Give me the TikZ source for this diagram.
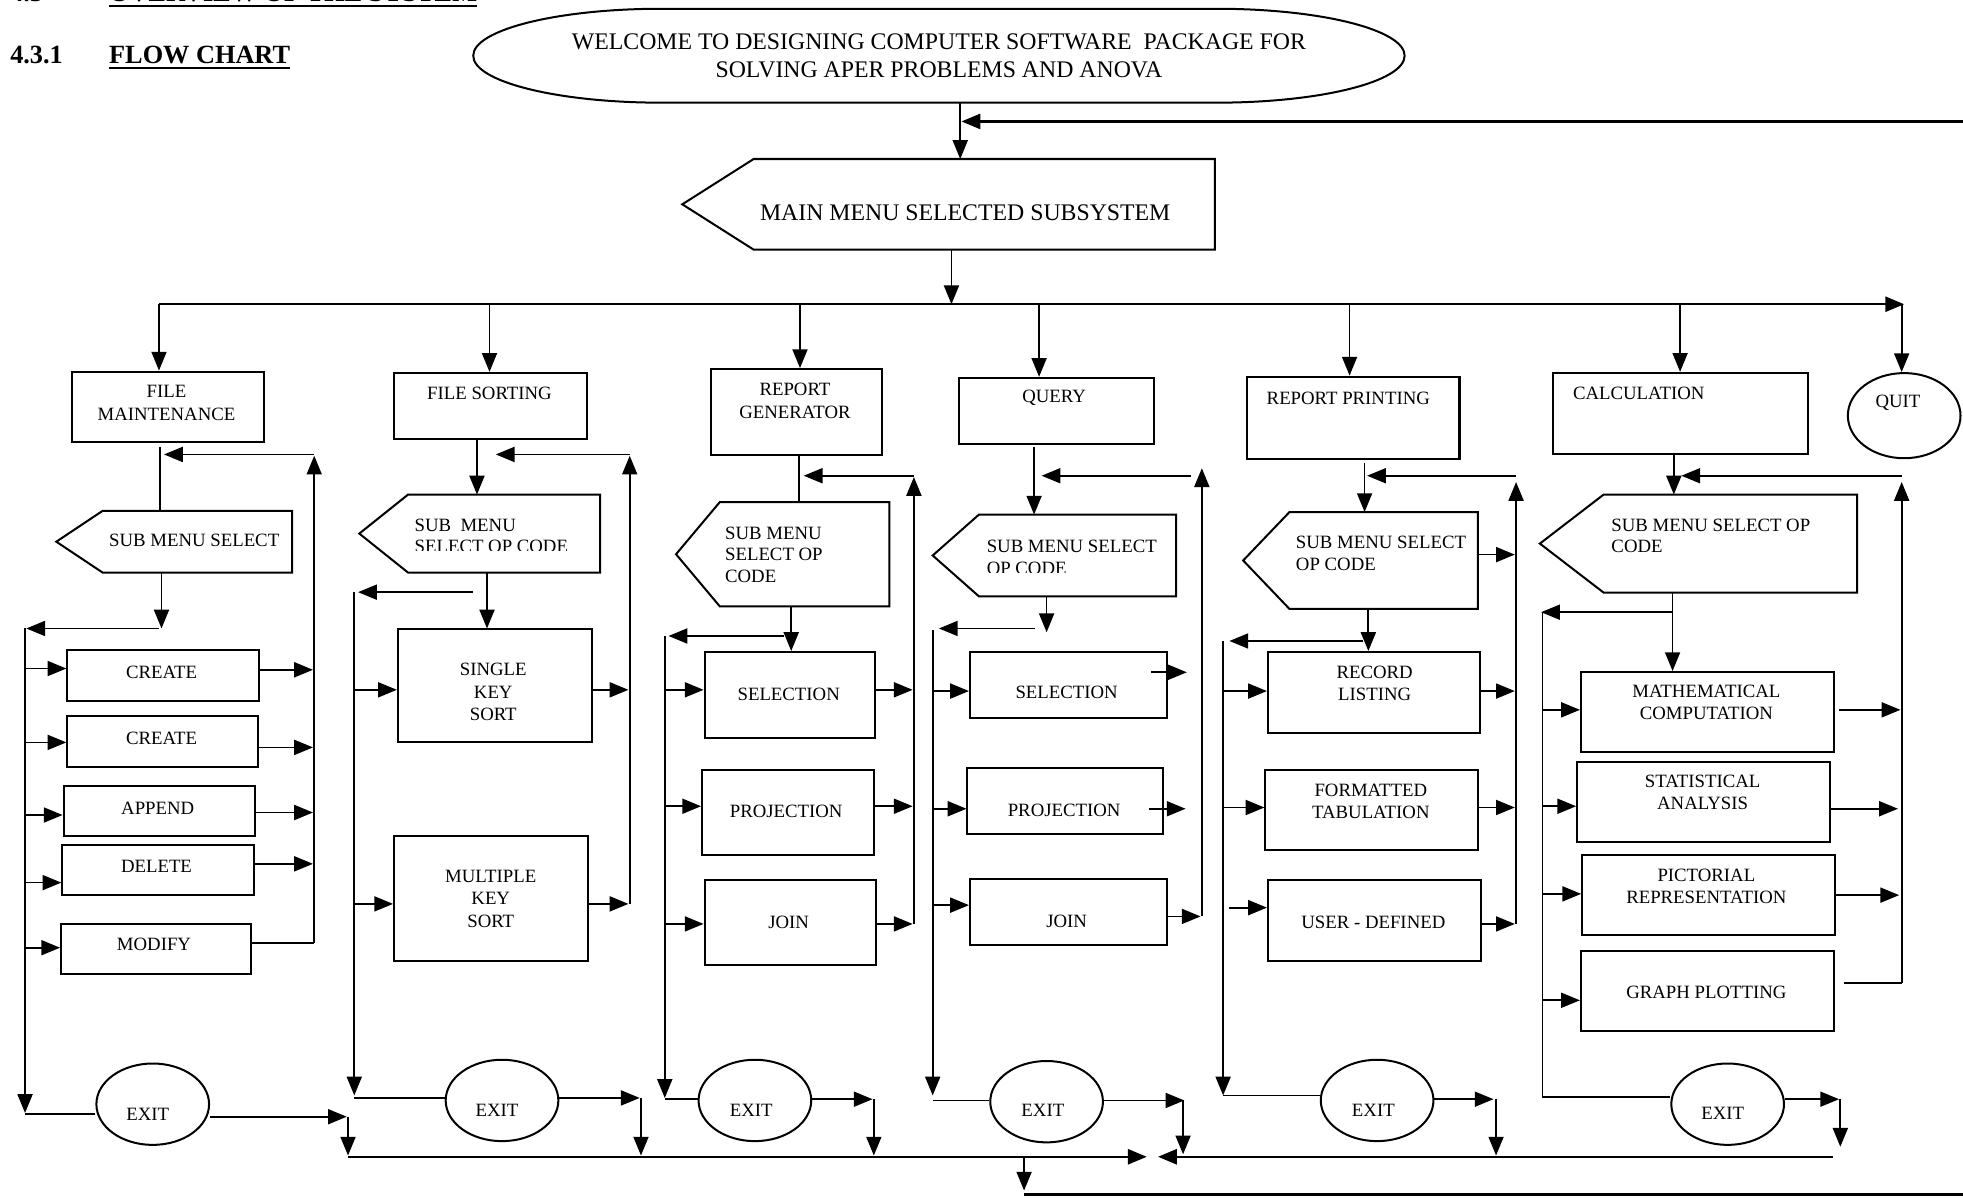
\documentclass[tikz,border=0pt]{standalone}
\usepackage{fontspec}
\setmainfont{Liberation Serif}
\usetikzlibrary{arrows.meta,shapes.geometric,calc}

% rectangular process box given by its corners
\newcommand{\flowbox}[5]{%
  \node[procbox, minimum width={(#4-#2)*1pt}, minimum height={(#5-#3)*1pt}] (#1) at (#2,#3) {};}
% menu box pointing to the left: name, tip x, corner x, right x, top y, bottom y
\newcommand{\menubox}[6]{%
  \node[inner sep=0pt, anchor=north west, minimum width={(#4-#3)*1pt}, minimum height={(#6-#5)*1pt}] (#1) at (#3,#5) {};
  \draw[shapeline] (#1.north west) -- (#1.north east) -- (#1.south east) -- (#1.south west) -- (#2,0 |- #1.west) -- cycle;}

\begin{document}
\begin{tikzpicture}[x=1pt, y=-1pt,
  conn/.style={line width=1.4pt},
  bus/.style={line width=1.9pt},
  arr/.style={conn, -{Triangle[length=15pt,width=12pt]}},
  busarr/.style={bus, -{Triangle[length=15pt,width=12pt]}},
  shapeline/.style={line width=1.6pt, line join=miter},
  procbox/.style={draw, shapeline, rectangle, inner sep=0pt, anchor=north west},
  txt/.style={inner sep=0pt, align=center, font=\fontsize{15}{18}\selectfont},
  ltxt/.style={inner sep=0pt, align=left, anchor=west, font=\fontsize{15}{17.5}\selectfont},
  bigtxt/.style={inner sep=0pt, align=center, font=\fontsize{19}{23}\selectfont},
  head/.style={inner sep=0pt, anchor=base west, font=\fontsize{21}{25}\selectfont\bfseries},
  endnode/.style={draw, ellipse, shapeline, inner sep=0pt, minimum width=90pt, minimum height=65pt},
]
\useasboundingbox (0,0) rectangle (1568,959);

% ---------- headings ----------
\node[head] (sec) at (8,1.5) {4.3};
\node[head] (sectitle) at (87,1.5) {OVERVIEW OF THE SYSTEM};
\draw[line width=1.6pt] ([yshift=-3pt]sectitle.base west) -- ([yshift=-3pt]sectitle.base east);
\node[head] (subsec) at (8,51) {4.3.1};
\node[head] (fc) at (87,51) {FLOW CHART};
\draw[line width=1.6pt] ([yshift=-3.5pt]fc.base west) -- ([yshift=-3.5pt]fc.base east);

% ---------- start and main menu ----------
\node[bigtxt, minimum height=75pt] (welcome) at (750,44.5)
  {WELCOME TO DESIGNING COMPUTER SOFTWARE\ \ PACKAGE FOR\\SOLVING APER PROBLEMS AND ANOVA};
\draw[shapeline] ([xshift=-222pt,yshift=37.5pt]welcome.center) -- ([xshift=222pt,yshift=37.5pt]welcome.center)
  arc[start angle=90, end angle=-90, x radius=150pt, y radius=37.5pt]
  -- ([xshift=-222pt,yshift=-37.5pt]welcome.center)
  arc[start angle=270, end angle=90, x radius=150pt, y radius=37.5pt] -- cycle;

\menubox{mm}{545}{602}{970}{127}{199}
\node[bigtxt] (mm-t) at (771,170) {MAIN MENU SELECTED SUBSYSTEM};

\draw[arr] (767,0 |- welcome.south) -- (767,0 |- mm.north);
\draw[busarr] (1568,97) -- (768,97);
\draw[arr] (760,0 |- mm.south) -- (760,243);
\draw[busarr] (127,243) -- (1521,243);

% ---------- subsystem boxes ----------
\flowbox{fm}{57}{296}{210}{352}
\node[txt] (fm-t) at (133,322) {FILE\\MAINTENANCE};
\flowbox{fs}{314}{297}{468}{350}
\node[txt] (fs-t) at (391,314) {FILE SORTING};
\flowbox{rg}{567}{294}{704}{363}
\node[txt] (rg-t) at (635,320) {REPORT\\GENERATOR};
\flowbox{qry}{765}{301}{921}{354}
\node[txt] (qry-t) at (842,318) {QUERY};
\flowbox{rp}{995}{300}{1165}{366}
\node[txt] (rp-t) at (1077,318) {REPORT PRINTING};
\flowbox{calc}{1240}{297}{1443}{362}
\node[txt] (calc-t) at (1309,314) {CALCULATION};
\node[endnode, minimum height=68pt] (quit) at (1521,332) {};
\node[txt] (quit-t) at (1516,322) {QUIT};

\draw[arr] (127,243) -- (127,0 |- fm.north);
\draw[arr] (391,243) -- (391,0 |- fs.north);
\draw[arr] (639,243) -- (639,0 |- rg.north);
\draw[arr] (830,243) -- (830,0 |- qry.north);
\draw[arr] (1078,243) -- (1078,0 |- rp.north);
\draw[arr] (1342,243) -- (1342,0 |- calc.north);
\draw[arr] (1519,243) -- (1519,0 |- quit.north);

% ---------- file maintenance ----------
\menubox{smA}{45}{82}{233}{408}{457}
\node[ltxt] (smA-t) at (87,432) {SUB MENU SELECT};
\flowbox{crA}{53}{518}{206}{559}
\node[txt] (crA-t) at (129,537) {CREATE};
\flowbox{crB}{53}{571}{205}{612}
\node[txt] (crB-t) at (129,590) {CREATE};
\flowbox{apd}{50}{627}{203}{667}
\node[txt] (apd-t) at (126,646) {APPEND};
\flowbox{del}{49}{674}{202}{714}
\node[txt] (del-t) at (125,692) {DELETE};
\flowbox{mod}{48}{737}{200}{777}
\node[txt] (mod-t) at (123,754) {MODIFY};
\node[endnode] (exA) at (122,882) {};
\node[txt] (exA-t) at (118,890) {EXIT};

\draw[conn] (128,357) -- (128,0 |- smA.north);
\draw[arr] (251,753) -- (251,364);
\draw[arr] (251,363) -- (131,363);
\draw[arr] (129,0 |- smA.south) -- (129,502);
\draw[arr] (127,502) -- (21,502);
\draw[arr] (20,502) -- (20,889);
\draw[conn] (20,890) -- (exA.west |- 0,890);
\draw[arr] (20,534) -- (crA.west |- 0,534);
\draw[arr] (20,593) -- (crB.west |- 0,593);
\draw[arr] (20,651) -- (apd.west |- 0,651);
\draw[arr] (20,705) -- (del.west |- 0,705);
\draw[arr] (20,757) -- (mod.west |- 0,757);
\draw[arr] (crA.east |- 0,535) -- (250,535);
\draw[arr] (crB.east |- 0,597) -- (250,597);
\draw[arr] (apd.east |- 0,649) -- (250,649);
\draw[arr] (del.east |- 0,690) -- (250,690);
\draw[conn] (mod.east |- 0,753) -- (251,753);
\draw[arr] (exA.east |- 0,892) -- (277,892);
\draw[arr] (278,892) -- (278,923);

% ---------- file sorting ----------
\menubox{smB}{287}{326}{479}{395}{457}
\begin{scope}
  \clip (326,396) rectangle (478,440);
  \node[ltxt] (smB-t) at (331,428) {SUB\ \ MENU\\SELECT OP CODE};
\end{scope}
\flowbox{sks}{317}{502}{472}{592}
\node[txt] (sks-t) at (394,553) {SINGLE\\KEY\\SORT};
\flowbox{mks}{314}{667}{469}{767}
\node[txt] (mks-t) at (392,718) {MULTIPLE\\KEY\\SORT};
\node[endnode] (exB) at (401,879) {};
\node[txt] (exB-t) at (397,887) {EXIT};

\draw[arr] (381,0 |- fs.south) -- (381,0 |- smB.north);
\draw[arr] (503,722) -- (503,364);
\draw[arr] (503,363) -- (396,363);
\draw[arr] (389,0 |- smB.south) -- (389,0 |- sks.north);
\draw[arr] (378,473) -- (286,473);
\draw[arr] (283,473) -- (283,875);
\draw[conn] (283,877) -- (exB.west |- 0,877);
\draw[arr] (283,551) -- (sks.west |- 0,551);
\draw[arr] (283,722) -- (mks.west |- 0,722);
\draw[arr] (sks.east |- 0,551) -- (502,551);
\draw[arr] (mks.east |- 0,722) -- (502,722);
\draw[arr] (exB.east |- 0,877) -- (511,877);
\draw[arr] (512,877) -- (512,923);

% ---------- report generator ----------
\menubox{smC}{540}{575}{710}{401}{484}
\node[ltxt, font=\fontsize{15}{17}\selectfont] (smC-t) at (579,443) {SUB MENU\\SELECT OP\\CODE};
\flowbox{selA}{562}{520}{698}{589}
\node[txt] (selA-t) at (630,555) {SELECTION};
\flowbox{prjA}{560}{614}{697}{682}
\node[txt] (prjA-t) at (628,648) {PROJECTION};
\flowbox{joinA}{562}{702}{699}{770}
\node[txt] (joinA-t) at (630,737) {JOIN};
\node[endnode] (exC) at (603,879) {};
\node[txt] (exC-t) at (600,887) {EXIT};

\draw[conn] (638,0 |- rg.south) -- (638,0 |- smC.north);
\draw[arr] (730,738) -- (730,381);
\draw[arr] (730,380) -- (642,380);
\draw[arr] (632,0 |- smC.south) -- (632,0 |- selA.north);
\draw[arr] (626,508) -- (534,508);
\draw[arr] (531,508) -- (531,877);
\draw[conn] (531,878) -- (exC.west |- 0,878);
\draw[arr] (531,551) -- (selA.west |- 0,551);
\draw[arr] (531,644) -- (prjA.west |- 0,644);
\draw[arr] (531,738) -- (joinA.west |- 0,738);
\draw[arr] (selA.east |- 0,551) -- (729,551);
\draw[arr] (prjA.east |- 0,644) -- (729,644);
\draw[arr] (joinA.east |- 0,738) -- (729,738);
\draw[arr] (exC.east |- 0,878) -- (697,878);
\draw[arr] (698,878) -- (698,923);

% ---------- query ----------
\menubox{smD}{745}{782}{939}{411}{476}
\begin{scope}
  \clip (782,412) rectangle (938,457.5);
  \node[ltxt] (smD-t) at (788,445) {SUB MENU SELECT\\OP CODE};
\end{scope}
\flowbox{selB}{774}{520}{931}{573}
\node[txt] (selB-t) at (852,553) {SELECTION};
\flowbox{prjB}{772}{613}{928}{665}
\node[txt] (prjB-t) at (850,647) {PROJECTION};
\flowbox{joinB}{774}{701}{931}{754}
\node[txt] (joinB-t) at (852,736) {JOIN};
\node[endnode] (exD) at (836,880) {};
\node[txt] (exD-t) at (833,887) {EXIT};

\draw[arr] (826,357) -- (826,0 |- smD.north);
\draw[arr] (960,732) -- (960,374);
\draw[arr] (951,380) -- (832,380);
\draw[arr] (836,0 |- smD.south) -- (836,505);
\draw[arr] (827,502) -- (750,502);
\draw[arr] (745,503) -- (745,875);
\draw[conn] (745,879) -- (exD.west |- 0,879);
\draw[arr] (745,552) -- (selB.west |- 0,552);
\draw[arr] (745,646) -- (prjB.west |- 0,646);
\draw[arr] (745,723) -- (joinB.west |- 0,723);
\draw[arr] ([xshift=-13pt]selB.east |- 0,537) -- (948,537);
\draw[arr] ([xshift=-12pt]prjB.east |- 0,646) -- (947,646);
\draw[arr] (joinB.east |- 0,732) -- (959,732);
\draw[arr] (exD.east |- 0,879) -- (946,879);
\draw[arr] (945,879) -- (945,922);

% ---------- report printing ----------
\menubox{smE}{993}{1030}{1180}{409}{486}
\node[ltxt] (smE-t) at (1035,442) {SUB MENU SELECT\\OP CODE};
\flowbox{rl}{1012}{520}{1181}{585}
\node[txt] (rl-t) at (1098,546) {RECORD\\LISTING};
\flowbox{ft}{1010}{614}{1180}{678}
\node[txt] (ft-t) at (1095,640) {FORMATTED\\TABULATION};
\flowbox{ud}{1012}{702}{1182}{767}
\node[txt] (ud-t) at (1097,737) {USER - DEFINED};
\node[endnode] (exE) at (1100,879) {};
\node[txt] (exE-t) at (1097,887) {EXIT};

\draw[arr] (1090,370) -- (1090,0 |- smE.north);
\draw[arr] (1211,738) -- (1211,385);
\draw[arr] (1211,380) -- (1092,380);
\draw[arr] (smE.east |- 0,443) -- (1210,443);
\draw[arr] (1093,0 |- smE.south) -- (1093,0 |- rl.north);
\draw[arr] (1089,512) -- (982,512);
\draw[arr] (977,512) -- (977,875);
\draw[conn] (977,875) -- (exE.west |- 0,875);
\draw[arr] (977,552) -- (rl.west |- 0,552);
\draw[arr] (977,645) -- (ft.west |- 0,645);
\draw[arr] (982,725) -- (ud.west |- 0,725);
\draw[arr] (rl.east |- 0,552) -- (1210,552);
\draw[arr] (ft.east |- 0,645) -- (1210,645);
\draw[arr] (ud.east |- 0,738) -- (1210,738);
\draw[arr] (exE.east |- 0,878) -- (1193,878);
\draw[arr] (1195,878) -- (1195,923);

% ---------- calculation ----------
\menubox{smF}{1230}{1281}{1483}{395}{473}
\node[ltxt] (smF-t) at (1287,428) {SUB MENU SELECT OP\\CODE};
\flowbox{mc}{1262}{536}{1464}{600}
\node[txt] (mc-t) at (1363,561) {MATHEMATICAL\\COMPUTATION};
\flowbox{sa}{1259}{608}{1461}{672}
\node[txt] (sa-t) at (1360,633) {STATISTICAL\\ANALYSIS};
\flowbox{pr}{1263}{682}{1465}{746}
\node[txt] (pr-t) at (1363,708) {PICTORIAL\\REPRESENTATION};
\flowbox{gp}{1262}{759}{1464}{823}
\node[txt] (gp-t) at (1363,793) {GRAPH PLOTTING};
\node[endnode] (exF) at (1380,882) {};
\node[txt] (exF-t) at (1376,889) {EXIT};

\draw[arr] (1337,0 |- calc.south) -- (1337,0 |- smF.north);
\draw[arr] (1519,785) -- (1519,385);
\draw[arr] (1519,380) -- (1343,380);
\draw[arr] (1336,0 |- smF.south) -- (1336,0 |- mc.north);
\draw[arr] (1336,489) -- (1231,489);
\draw[conn] (1232,489) -- (1232,876) -- (exF.west |- 0,876);
\draw[arr] (1232,567) -- (mc.west |- 0,567);
\draw[arr] (1232,644) -- (sa.west |- 0,644);
\draw[arr] (1232,714) -- (pr.west |- 0,714);
\draw[arr] (1232,799) -- (gp.west |- 0,799);
\draw[arr] ([xshift=3pt]mc.east |- 0,567) -- (1518,567);
\draw[arr] (sa.east |- 0,646) -- (1516,646);
\draw[arr] (pr.east |- 0,715) -- (1517,715);
\draw[conn] ([xshift=7pt]gp.east |- 0,785) -- (1519,785);
\draw[arr] (exF.east |- 0,878) -- (1469,878);
\draw[arr] (1470,878) -- (1470,916);

% ---------- bottom collecting lines ----------
\draw[busarr] (278,924) -- (916,924);
\draw[busarr] (1464,924) -- (925,924);
\draw[arr] (818,924) -- (818,951);
\draw[bus] (818,954) -- (1568,954);

\end{tikzpicture}
\end{document}
